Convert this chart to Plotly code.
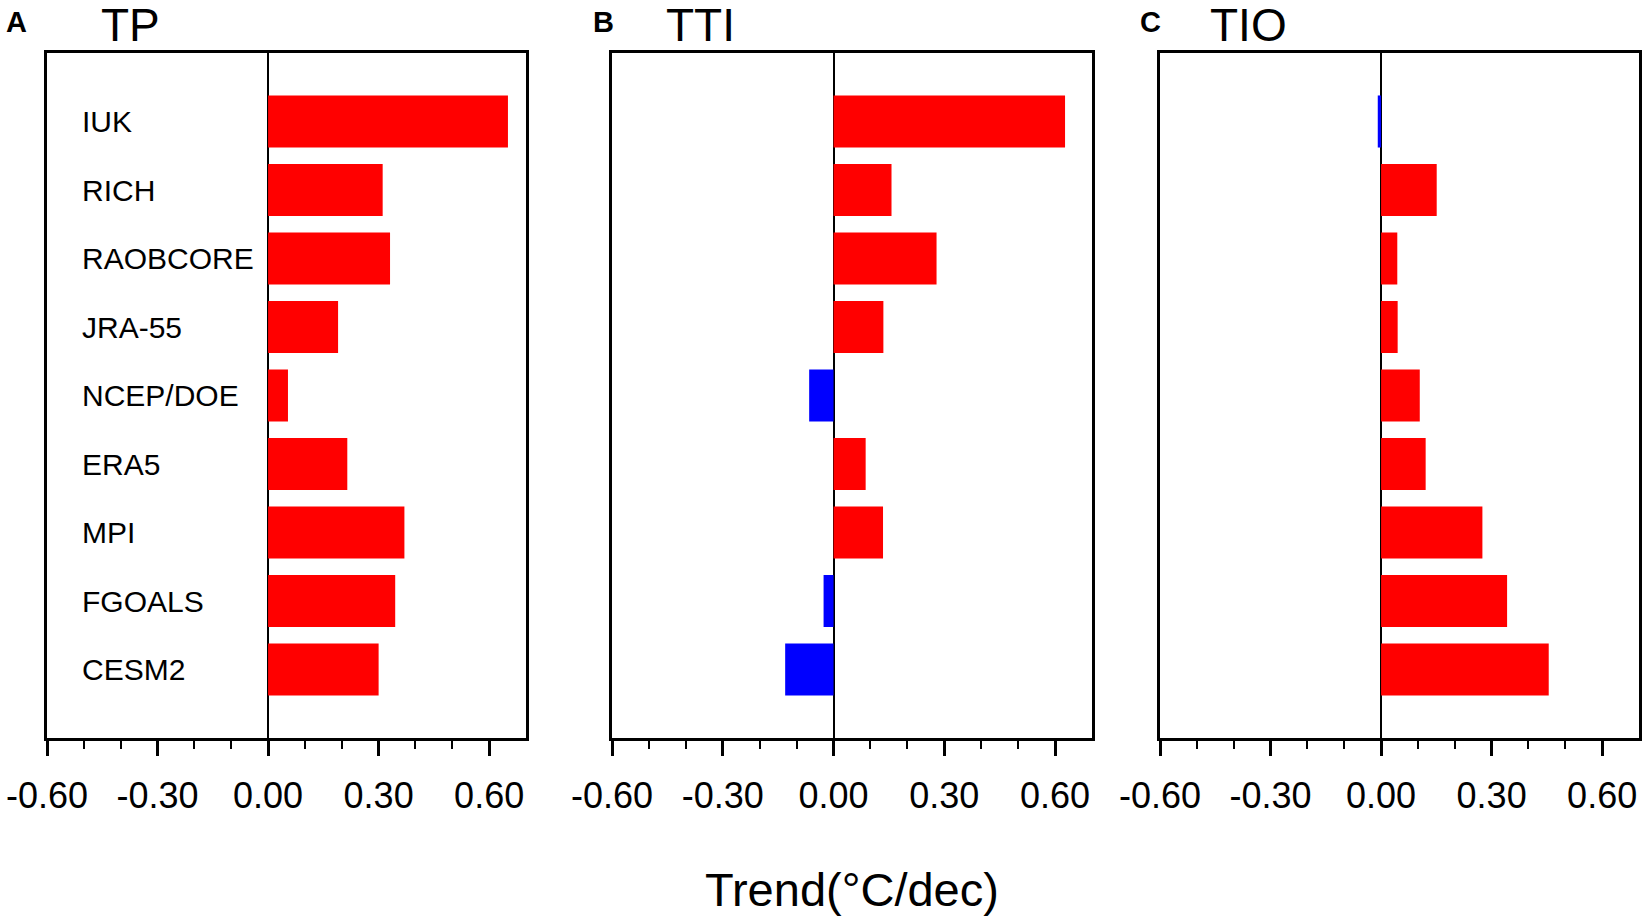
import plotly.graph_objects as go

# models / reanalyses, top to bottom
names = ['IUK', 'RICH', 'RAOBCORE', 'JRA-55', 'NCEP/DOE', 'ERA5', 'MPI', 'FGOALS', 'CESM2']

# trends (degC/dec)
tp = [0.651, 0.311, 0.331, 0.19, 0.054, 0.215, 0.37, 0.345, 0.30]
tti = [0.627, 0.157, 0.279, 0.135, -0.066, 0.087, 0.134, -0.027, -0.131]
tio = [-0.009, 0.151, 0.044, 0.045, 0.105, 0.121, 0.275, 0.342, 0.455]

panel_letters = ['A', 'B', 'C']
panel_titles = ['TP', 'TTI', 'TIO']
tick_vals = [-0.6, -0.3, 0.0, 0.3, 0.6]
tick_text = ['-0.60', '-0.30', '0.00', '0.30', '0.60']
minor_vals = [-0.5, -0.4, -0.2, -0.1, 0.1, 0.2, 0.4, 0.5]

FONT = 'Liberation Sans, Arial, Helvetica, sans-serif'

W, H = 1647, 921


# pixel positions (from the reference) -> paper fractions
def px(v):
    return v / W


def py(v):
    return 1 - v / H


x_domains = [[px(47), px(526)], [px(612), px(1092)], [px(1160), px(1639)]]
y_domain = [py(738), py(53)]
letter_x = [px(4), px(591), px(1138)]
title_x = [px(99), px(664), px(1208)]

fig = go.Figure()

for i, vals in enumerate([tp, tti, tio]):
    sfx = '' if i == 0 else str(i + 1)
    colors = ['#ff0000' if v >= 0 else '#0000ff' for v in vals]
    fig.add_trace(go.Bar(
        x=vals, y=names, orientation='h', width=0.76,
        marker=dict(color=colors, line=dict(width=0)),
        xaxis='x' + sfx, yaxis='y' + sfx, showlegend=False,
    ))

    fig.layout['xaxis' + sfx] = dict(
        domain=x_domains[i], anchor='y' + sfx, range=[-0.6, 0.7],
        tickmode='array', tickvals=tick_vals, ticktext=tick_text,
        ticks='outside', ticklen=15, tickwidth=3, tickcolor='black',
        minor=dict(tickmode='array', tickvals=minor_vals, ticks='outside',
                   ticklen=8, tickwidth=2, tickcolor='black'),
        tickfont=dict(family=FONT, size=36, color='black'),
        ticklabelstandoff=9, ticklabeloverflow='allow',
        showgrid=False, zeroline=True, zerolinecolor='black', zerolinewidth=1.5,
        showline=True, linecolor='black', linewidth=3, mirror=True,
        fixedrange=True, automargin=False,
    )
    fig.layout['yaxis' + sfx] = dict(
        domain=y_domain, anchor='x' + sfx, type='category',
        categoryorder='array', categoryarray=names, range=[9, -1],
        showticklabels=False, ticks='', showgrid=False, zeroline=False,
        showline=True, linecolor='black', linewidth=3, mirror=True,
        fixedrange=True, automargin=False,
    )

    # panel letter and title
    fig.add_annotation(x=letter_x[i], y=py(22), xref='paper', yref='paper',
                       text='<b>' + panel_letters[i] + '</b>', showarrow=False,
                       xanchor='left', yanchor='middle',
                       font=dict(family=FONT, size=29, color='black'))
    fig.add_annotation(x=title_x[i], y=py(25), xref='paper', yref='paper',
                       text=panel_titles[i], showarrow=False,
                       xanchor='left', yanchor='middle',
                       font=dict(family=FONT, size=46, color='black'))

# category names only inside first panel
for n in names:
    fig.add_annotation(x=-0.51, y=n, xref='x', yref='y', text=n,
                       showarrow=False, xanchor='left', yanchor='middle',
                       font=dict(family=FONT, size=30, color='black'))

fig.add_annotation(x=px(852), y=py(889), xref='paper', yref='paper',
                   text='Trend(°C/dec)', showarrow=False,
                   xanchor='center', yanchor='middle',
                   font=dict(family=FONT, size=47, color='black'))

fig.update_layout(
    width=W, height=H, autosize=False,
    margin=dict(l=0, r=0, t=0, b=0, pad=0),
    paper_bgcolor='white', plot_bgcolor='white',
    showlegend=False,
)

# drop the default 8px page margin so the figure fills the window exactly
fig.write_html('out.html', config={'displayModeBar': False},
               post_script="document.body.style.margin='0px';"
                           "document.body.style.overflow='hidden';")
